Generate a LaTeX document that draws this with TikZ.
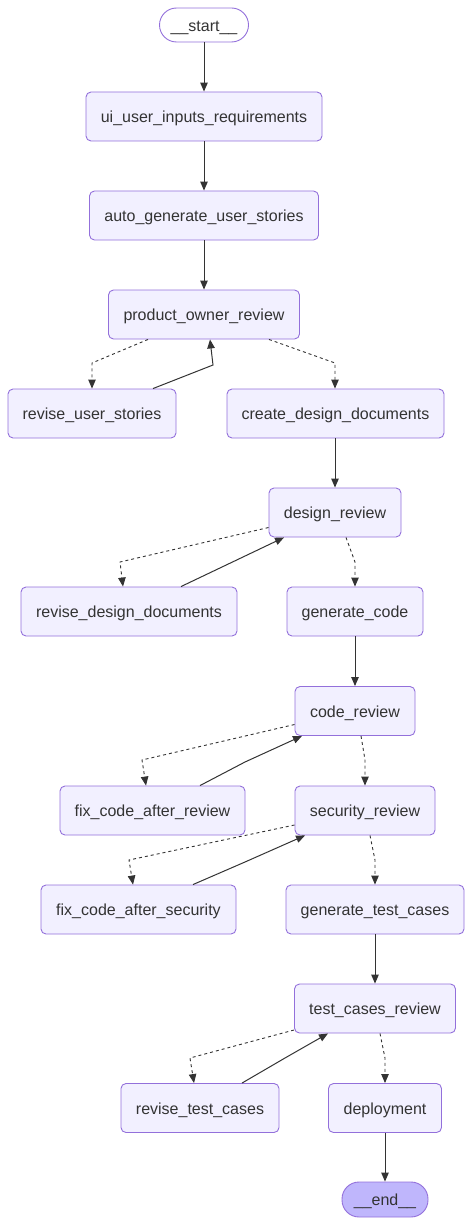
\documentclass[tikz,border=0pt]{standalone}
\usepackage{fontspec}
\setmainfont{Liberation Sans}
\usetikzlibrary{arrows.meta}
\definecolor{nodefill}{HTML}{F2F0FF}
\definecolor{nodestroke}{HTML}{9370DB}
\definecolor{endfill}{HTML}{BFB6FC}
\definecolor{txt}{HTML}{333333}
\definecolor{edgec}{HTML}{333333}
\tikzset{
  box/.style={draw=nodestroke, fill=nodefill, rounded corners=5pt, line width=0.9pt,
    minimum height=49pt, inner sep=0pt, text=txt, font=\fontsize{16}{19}\selectfont,
    text height=16pt, text depth=3.6pt},
  pill/.style={draw=nodestroke, rounded corners=17pt, line width=0.9pt,
    minimum height=34pt, inner sep=0pt, text=txt, font=\fontsize{16}{19}\selectfont,
    text height=16pt, text depth=3.6pt},
  solidedge/.style={draw=edgec, line width=1pt, -{Triangle[length=9pt,width=7.5pt]}},
  dottededge/.style={draw=edgec, line width=0.9pt, dash pattern=on 3pt off 3pt, -{Triangle[length=9pt,width=7.5pt]}},
}
\begin{document}
\begin{tikzpicture}[x=1pt,y=-1pt]
\useasboundingbox (0,0) rectangle (473,1225);
% nodes
\node[pill, fill=white, minimum width=89pt] (start) at (204,25) {\_\_start\_\_};
\node[box, minimum width=236pt] (ui) at (204,116.5) {ui\_user\_inputs\_requirements};
\node[box, minimum width=229pt] (aus) at (204,215.5) {auto\_generate\_user\_stories};
\node[box, minimum width=191pt] (por) at (204,314.5) {product\_owner\_review};
\node[box, minimum width=168pt] (rus) at (92,413.5) {revise\_user\_stories};
\node[box, minimum width=217pt] (cdd) at (335.5,413.5) {create\_design\_documents};
\node[box, minimum width=132pt] (dr) at (335,512.5) {design\_review};
\node[box, minimum width=216pt] (rdd) at (129,611.5) {revise\_design\_documents};
\node[box, minimum width=136pt] (gc) at (355,611.5) {generate\_code};
\node[box, minimum width=120pt] (cr) at (355,711) {code\_review};
\node[box, minimum width=185pt] (fcr) at (152.5,810.5) {fix\_code\_after\_review};
\node[box, minimum width=140pt] (sr) at (365,810.5) {security\_review};
\node[box, minimum width=195pt] (fcs) at (138.5,909.5) {fix\_code\_after\_security};
\node[box, minimum width=178pt] (gtc) at (375,909.5) {generate\_test\_cases};
\node[box, minimum width=161pt] (tcr) at (375,1008.5) {test\_cases\_review};
\node[box, minimum width=158pt] (rtc) at (200,1108) {revise\_test\_cases};
\node[box, minimum width=113pt] (dep) at (385,1108) {deployment};
\node[pill, fill=endfill, minimum width=86pt, minimum height=35pt] (end) at (385,1199.5) {\_\_end\_\_};
% bend points
\coordinate (b1) at (92,363);
\coordinate (b2) at (213,365);
\coordinate (b3) at (335,363);
\coordinate (b4) at (120,562);
\coordinate (b5) at (355,562);
\coordinate (b6) at (142,760);
\coordinate (b7) at (245,762);
\coordinate (b8) at (365,760);
\coordinate (b9) at (129,860);
\coordinate (b10) at (245,862);
\coordinate (b11) at (375,860);
\coordinate (b12) at (190,1058);
\coordinate (b13) at (285,1058);
\coordinate (b14) at (385,1058);
% edges
\draw[solidedge] (start) -- (ui);
\draw[solidedge] (ui) -- (aus);
\draw[solidedge] (aus) -- (por);
\draw[dottededge] ([xshift=-56pt]por.south) -- (b1) -- (rus.north);
\draw[solidedge] ([xshift=61pt]rus.north) -- (b2) -- ([xshift=6pt]por.south);
\draw[dottededge] ([xshift=65pt]por.south) -- (b3) -- ([xshift=-0.5pt]cdd.north);
\draw[solidedge] ([xshift=-0.5pt]cdd.south) -- (dr.north);
\draw[dottededge] ([yshift=-15pt]dr.west) -- (b4) -- ([xshift=-6pt]rdd.north);
\draw[solidedge] ([xshift=52pt]rdd.north) -- ([xshift=-51pt]dr.south);
\draw[dottededge] ([xshift=11pt]dr.south) -- (b5) -- (gc.north);
\draw[solidedge] (gc) -- (cr);
\draw[dottededge] ([yshift=-13.5pt]cr.west) -- (b6) -- ([xshift=-6.5pt]fcr.north);
\draw[solidedge] ([xshift=47.5pt]fcr.north) -- (b7) -- ([xshift=-53pt]cr.south);
\draw[dottededge] ([xshift=6pt]cr.south) -- (b8) -- (sr.north);
\draw[dottededge] ([yshift=-14.5pt]sr.west) -- (b9) -- ([xshift=-5.5pt]fcs.north);
\draw[solidedge] ([xshift=54.5pt]fcs.north) -- (b10) -- ([xshift=-60pt]sr.south);
\draw[dottededge] ([xshift=5pt]sr.south) -- (b11) -- (gtc.north);
\draw[solidedge] (gtc) -- (tcr);
\draw[dottededge] ([yshift=-21.5pt]tcr.west) -- (b12) -- ([xshift=-6pt]rtc.north);
\draw[solidedge] ([xshift=42pt]rtc.north) -- (b13) -- ([xshift=-47pt]tcr.south);
\draw[dottededge] ([xshift=5pt]tcr.south) -- (b14) -- (dep.north);
\draw[solidedge] (dep) -- (end);
\end{tikzpicture}
\end{document}
